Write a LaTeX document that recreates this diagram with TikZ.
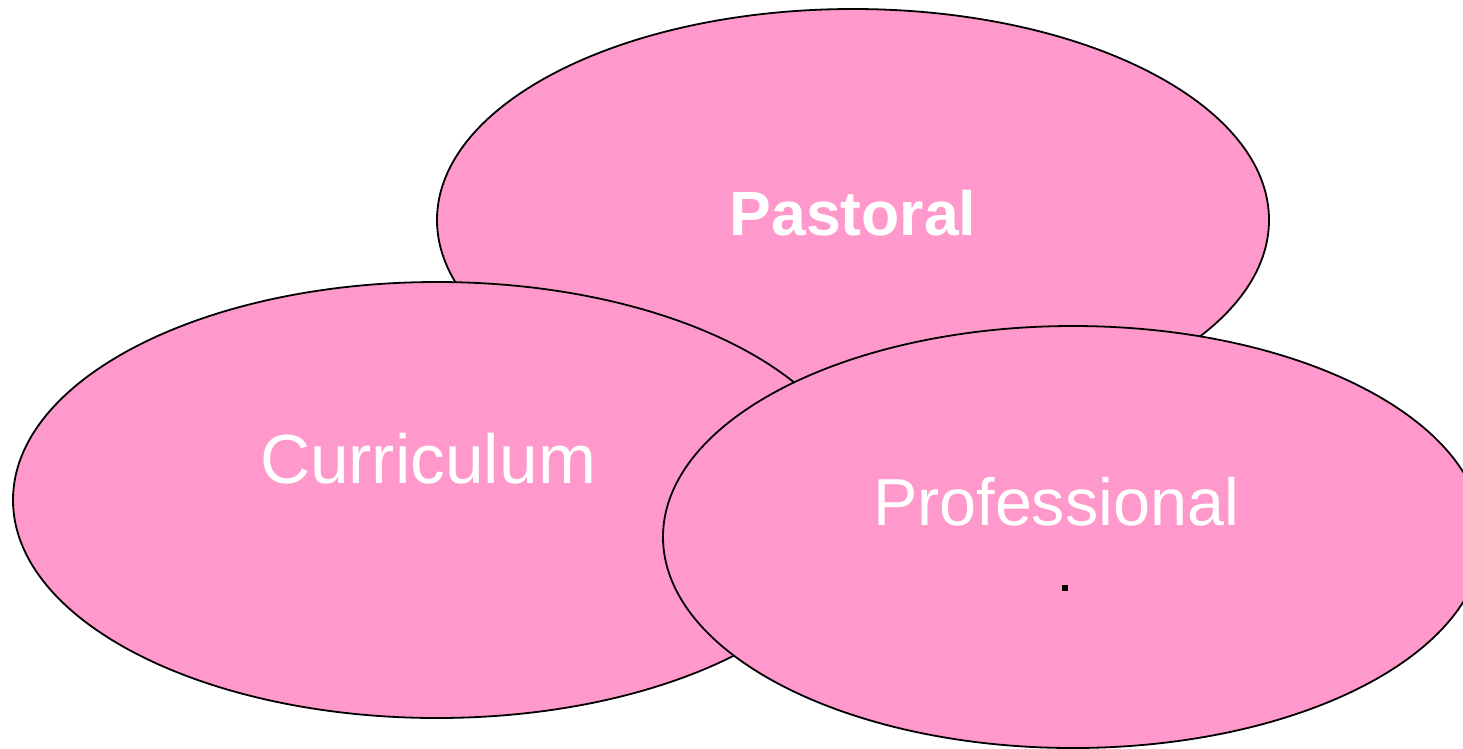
\documentclass[tikz,border=0pt]{standalone}
\usepackage{fontspec}
\setmainfont{Liberation Sans}
\usetikzlibrary{shapes.geometric}
\definecolor{petal}{HTML}{FF99CC}
\tikzset{
  area/.style={ellipse, draw=black, line width=1.8pt, fill=petal, inner sep=0pt, outer sep=0pt},
  areatitle/.style={anchor=base, text=white, inner sep=0pt},
}
\begin{document}
\begin{tikzpicture}[x=1pt,y=-1pt]
  \useasboundingbox (0,0) rectangle (1463,748);
  % three overlapping areas, drawn back to front
  \node[area, minimum width=832pt, minimum height=422pt] (pastoral) at (853,220) {};
  \node[area, minimum width=848pt, minimum height=436pt] (curriculum) at (437,500) {};
  \node[area, minimum width=820pt, minimum height=422pt] (professional) at (1073,537) {};
  % titles
  \node[areatitle, font=\fontsize{62.5}{62.5}\selectfont\bfseries] (tpastoral) at (853,235) {Pastoral};
  \node[areatitle, font=\fontsize{69.5}{69.5}\selectfont] (tcurriculum) at (428,483) {Curriculum};
  \node[areatitle, font=\fontsize{66.5}{66.5}\selectfont] (tprofessional) at (1056,525) {Professional};
  % small mark below the last title
  \node[fill=black, inner sep=0pt, minimum size=5.5pt] (mark) at (1065,588) {};
\end{tikzpicture}
\end{document}
